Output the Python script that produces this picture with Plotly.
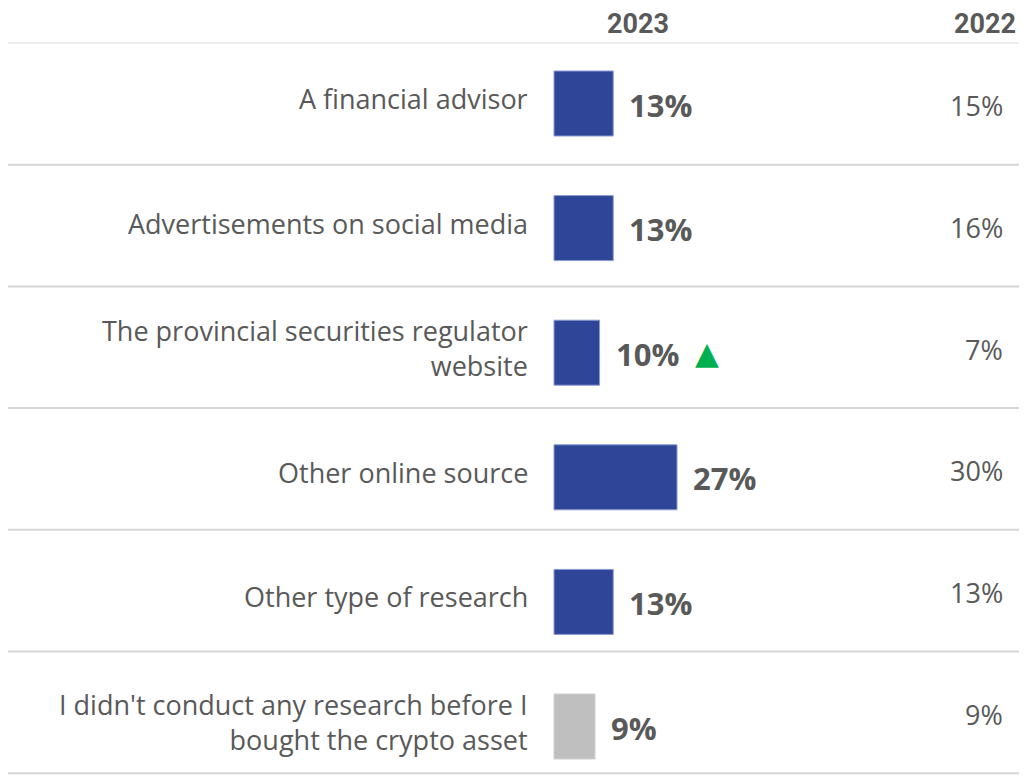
import plotly.graph_objects as go

categories = [
    "A financial advisor",
    "Advertisements on social media",
    "The provincial securities regulator<br>website",
    "Other online source",
    "Other type of research",
    "I didn't conduct any research before I<br>bought the crypto asset",
]
values_2023 = [13, 13, 10, 27, 13, 9]
values_2022 = [15, 16, 7, 30, 13, 9]
sig_up = [False, False, True, False, False, False]
bar_colors = ["#2E4598", "#2E4598", "#2E4598", "#2E4598", "#2E4598", "#BFBFBF"]
edge_colors = ["#8A9AD0"] * 5 + ["#D0D0D0"]

OFF = 8  # page body margin
W, H = 1027 - OFF, 778 - OFF
TXT = "#595959"
FONT = "Open Sans"

# layout geometry (pixels)
px_per = 4.556           # px per percentage point
x0px = 554 - OFF         # x of 0%
bar_pitch = 124.6
first_bar_c = 103.5 - OFF
bar_px = 65
row_pitch = 121.7
first_line = 43 - OFF

fig = go.Figure()
fig.add_trace(go.Bar(
    x=values_2023, y=categories, orientation="h",
    marker=dict(color=bar_colors, line=dict(color=edge_colors, width=1)),
    width=bar_px / bar_pitch, hoverinfo="skip",
))

def ypaper(px):
    return 1 - px / H

ann = []
for i, (c, v, v2, up) in enumerate(zip(categories, values_2023, values_2022, sig_up)):
    ann.append(dict(x=0, y=c, xref="x", yref="y", text=c, showarrow=False,
                    xanchor="right", yanchor="middle", align="right", xshift=-24, yshift=5,
                    font=dict(family=FONT, size=27, color=TXT)))
    ann.append(dict(x=v, y=c, xref="x", yref="y", text=f"<b>{v}%</b>", showarrow=False,
                    xanchor="left", yanchor="middle", xshift=14, yshift=-1,
                    font=dict(family=FONT, size=31, color=TXT)))
    if up:
        ann.append(dict(x=v, y=c, xref="x", yref="y", text="▲", showarrow=False,
                        xanchor="left", yanchor="middle", xshift=93, yshift=0,
                        font=dict(family="DejaVu Sans", size=31, color="#00B050")))
    row_c = first_line + (i + 0.5) * row_pitch
    ann.append(dict(x=(1005 - OFF) / W, y=ypaper(row_c), xref="paper", yref="paper",
                    text=f"{v2}%", showarrow=False, xanchor="right", yanchor="middle",
                    yshift=-2, font=dict(family=FONT, size=27, color=TXT)))

for txt, xp, xa in [("2023", 638, "center"), ("2022", 1016, "right")]:
    ann.append(dict(x=(xp - OFF) / W, y=1, xref="paper", yref="paper", text=f"<b>{txt}</b>",
                    showarrow=False, xanchor=xa, yanchor="top", borderpad=0, borderwidth=0,
                    font=dict(family="Roboto", size=27, color=TXT)))

shapes = []
for k in range(len(categories) + 1):
    yp = ypaper(first_line + k * row_pitch)
    shapes.append(dict(type="line", xref="paper", yref="paper", x0=0, x1=1, y0=yp, y1=yp,
                       line=dict(color="#EDEDED" if k == 0 else "#D6D6D6", width=2)))

fig.update_layout(
    width=W, height=H,
    margin=dict(l=0, r=0, t=0, b=0),
    paper_bgcolor="white", plot_bgcolor="white",
    showlegend=False,
    xaxis=dict(range=[-x0px / px_per, (W - x0px) / px_per], visible=False, fixedrange=True),
    yaxis=dict(type="category", categoryorder="array", categoryarray=categories,
               range=[(H - first_bar_c) / bar_pitch, -first_bar_c / bar_pitch], visible=False),
    annotations=ann, shapes=shapes,
)
fig.write_html("out.html")
